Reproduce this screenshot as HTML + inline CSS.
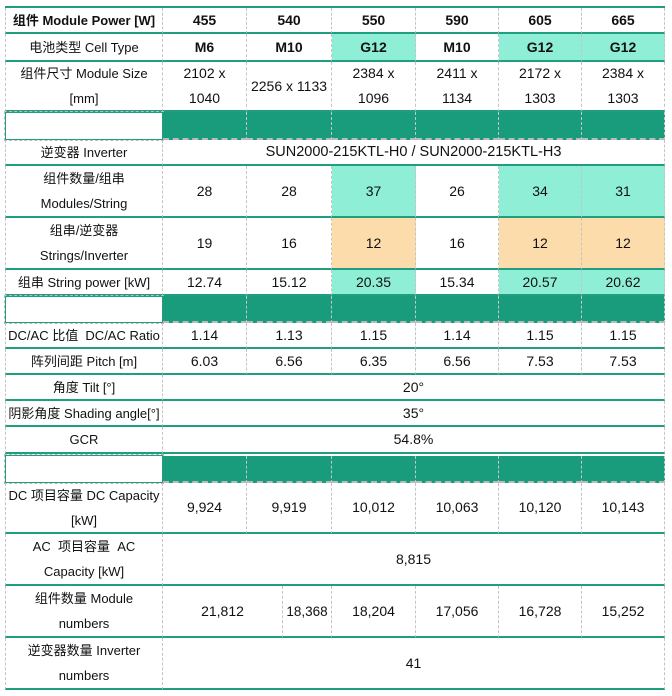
<!DOCTYPE html>
<html><head><meta charset="utf-8"><style>
body{margin:0;background:#fff;width:672px;height:696px;position:relative;overflow:hidden;font-family:"Liberation Sans","Noto Sans CJK SC",sans-serif;font-size:14px;color:#111}
.c{position:absolute;box-sizing:border-box;display:flex;align-items:center;justify-content:center;text-align:center;border-right:1px dashed #c4c4c4;border-bottom:2px solid #1f9e80;line-height:25px}
.f{border-left:1px dashed #c4c4c4;font-size:13px}
.b{font-weight:bold}
.t{background:#8eeed6}.p{background:#fcdcaa}.g{background:#189c7c;border-bottom:2px dashed #bbb}
.w{border:1px solid #1f9e80;outline:1px dashed #bbb}
</style></head><body>
<div style="position:absolute;left:5px;top:6px;width:660px;height:2px;background:#1f9e80"></div>
<div class="c f b" style="left:5px;top:8px;width:158px;height:26px">组件 Module Power [W]</div>
<div class="c b" style="left:163px;top:8px;width:84px;height:26px">455</div>
<div class="c b" style="left:247px;top:8px;width:85px;height:26px">540</div>
<div class="c b" style="left:332px;top:8px;width:84px;height:26px">550</div>
<div class="c b" style="left:416px;top:8px;width:83px;height:26px">590</div>
<div class="c b" style="left:499px;top:8px;width:83px;height:26px">605</div>
<div class="c b" style="left:582px;top:8px;width:83px;height:26px">665</div>
<div class="c f" style="left:5px;top:34px;width:158px;height:28px">电池类型 Cell Type</div>
<div class="c b" style="left:163px;top:34px;width:84px;height:28px">M6</div>
<div class="c b" style="left:247px;top:34px;width:85px;height:28px">M10</div>
<div class="c b t" style="left:332px;top:34px;width:84px;height:28px">G12</div>
<div class="c b" style="left:416px;top:34px;width:83px;height:28px">M10</div>
<div class="c b t" style="left:499px;top:34px;width:83px;height:28px">G12</div>
<div class="c b t" style="left:582px;top:34px;width:83px;height:28px">G12</div>
<div class="c f" style="left:5px;top:62px;width:158px;height:50px">组件尺寸 Module Size<br>[mm]</div>
<div class="c" style="left:163px;top:62px;width:84px;height:50px">2102 x<br>1040</div>
<div class="c" style="left:247px;top:62px;width:85px;height:50px">2256 x 1133</div>
<div class="c" style="left:332px;top:62px;width:84px;height:50px">2384 x<br>1096</div>
<div class="c" style="left:416px;top:62px;width:83px;height:50px">2411 x<br>1134</div>
<div class="c" style="left:499px;top:62px;width:83px;height:50px">2172 x<br>1303</div>
<div class="c" style="left:582px;top:62px;width:83px;height:50px">2384 x<br>1303</div>
<div class="c w" style="left:5px;top:112px;width:158px;height:28px"></div>
<div class="c g" style="left:163px;top:112px;width:84px;height:28px"></div>
<div class="c g" style="left:247px;top:112px;width:85px;height:28px"></div>
<div class="c g" style="left:332px;top:112px;width:84px;height:28px"></div>
<div class="c g" style="left:416px;top:112px;width:83px;height:28px"></div>
<div class="c g" style="left:499px;top:112px;width:83px;height:28px"></div>
<div class="c g" style="left:582px;top:112px;width:83px;height:28px"></div>
<div class="c f" style="left:5px;top:140px;width:158px;height:26px">逆变器 Inverter</div>
<div class="c" style="left:163px;top:140px;width:502px;height:26px;font-size:14.5px">SUN2000-215KTL-H0 / SUN2000-215KTL-H3</div>
<div class="c f" style="left:5px;top:166px;width:158px;height:52px">组件数量/组串<br>Modules/String</div>
<div class="c" style="left:163px;top:166px;width:84px;height:52px">28</div>
<div class="c" style="left:247px;top:166px;width:85px;height:52px">28</div>
<div class="c t" style="left:332px;top:166px;width:84px;height:52px">37</div>
<div class="c" style="left:416px;top:166px;width:83px;height:52px">26</div>
<div class="c t" style="left:499px;top:166px;width:83px;height:52px">34</div>
<div class="c t" style="left:582px;top:166px;width:83px;height:52px">31</div>
<div class="c f" style="left:5px;top:218px;width:158px;height:52px">组串/逆变器<br>Strings/Inverter</div>
<div class="c" style="left:163px;top:218px;width:84px;height:52px">19</div>
<div class="c" style="left:247px;top:218px;width:85px;height:52px">16</div>
<div class="c p" style="left:332px;top:218px;width:84px;height:52px">12</div>
<div class="c" style="left:416px;top:218px;width:83px;height:52px">16</div>
<div class="c p" style="left:499px;top:218px;width:83px;height:52px">12</div>
<div class="c p" style="left:582px;top:218px;width:83px;height:52px">12</div>
<div class="c f" style="left:5px;top:270px;width:158px;height:26px">组串 String power [kW]</div>
<div class="c" style="left:163px;top:270px;width:84px;height:26px">12.74</div>
<div class="c" style="left:247px;top:270px;width:85px;height:26px">15.12</div>
<div class="c t" style="left:332px;top:270px;width:84px;height:26px">20.35</div>
<div class="c" style="left:416px;top:270px;width:83px;height:26px">15.34</div>
<div class="c t" style="left:499px;top:270px;width:83px;height:26px">20.57</div>
<div class="c t" style="left:582px;top:270px;width:83px;height:26px">20.62</div>
<div class="c w" style="left:5px;top:296px;width:158px;height:27px"></div>
<div class="c g" style="left:163px;top:296px;width:84px;height:27px"></div>
<div class="c g" style="left:247px;top:296px;width:85px;height:27px"></div>
<div class="c g" style="left:332px;top:296px;width:84px;height:27px"></div>
<div class="c g" style="left:416px;top:296px;width:83px;height:27px"></div>
<div class="c g" style="left:499px;top:296px;width:83px;height:27px"></div>
<div class="c g" style="left:582px;top:296px;width:83px;height:27px"></div>
<div class="c f" style="left:5px;top:323px;width:158px;height:26px">DC/AC 比值&nbsp; DC/AC Ratio</div>
<div class="c" style="left:163px;top:323px;width:84px;height:26px">1.14</div>
<div class="c" style="left:247px;top:323px;width:85px;height:26px">1.13</div>
<div class="c" style="left:332px;top:323px;width:84px;height:26px">1.15</div>
<div class="c" style="left:416px;top:323px;width:83px;height:26px">1.14</div>
<div class="c" style="left:499px;top:323px;width:83px;height:26px">1.15</div>
<div class="c" style="left:582px;top:323px;width:83px;height:26px">1.15</div>
<div class="c f" style="left:5px;top:349px;width:158px;height:26px">阵列间距 Pitch [m]</div>
<div class="c" style="left:163px;top:349px;width:84px;height:26px">6.03</div>
<div class="c" style="left:247px;top:349px;width:85px;height:26px">6.56</div>
<div class="c" style="left:332px;top:349px;width:84px;height:26px">6.35</div>
<div class="c" style="left:416px;top:349px;width:83px;height:26px">6.56</div>
<div class="c" style="left:499px;top:349px;width:83px;height:26px">7.53</div>
<div class="c" style="left:582px;top:349px;width:83px;height:26px">7.53</div>
<div class="c f" style="left:5px;top:375px;width:158px;height:26px">角度 Tilt [°]</div>
<div class="c" style="left:163px;top:375px;width:502px;height:26px">20°</div>
<div class="c f" style="left:5px;top:401px;width:158px;height:26px">阴影角度 Shading angle[°]</div>
<div class="c" style="left:163px;top:401px;width:502px;height:26px">35°</div>
<div class="c f" style="left:5px;top:427px;width:158px;height:27px">GCR</div>
<div class="c" style="left:163px;top:427px;width:502px;height:27px">54.8%</div>
<div class="c w" style="left:5px;top:455px;width:158px;height:28px"></div>
<div class="c g" style="left:163px;top:456px;width:84px;height:27px"></div>
<div class="c g" style="left:247px;top:456px;width:85px;height:27px"></div>
<div class="c g" style="left:332px;top:456px;width:84px;height:27px"></div>
<div class="c g" style="left:416px;top:456px;width:83px;height:27px"></div>
<div class="c g" style="left:499px;top:456px;width:83px;height:27px"></div>
<div class="c g" style="left:582px;top:456px;width:83px;height:27px"></div>
<div class="c f" style="left:5px;top:483px;width:158px;height:51px">DC 项目容量 DC Capacity<br>[kW]</div>
<div class="c" style="left:163px;top:483px;width:84px;height:51px">9,924</div>
<div class="c" style="left:247px;top:483px;width:85px;height:51px">9,919</div>
<div class="c" style="left:332px;top:483px;width:84px;height:51px">10,012</div>
<div class="c" style="left:416px;top:483px;width:83px;height:51px">10,063</div>
<div class="c" style="left:499px;top:483px;width:83px;height:51px">10,120</div>
<div class="c" style="left:582px;top:483px;width:83px;height:51px">10,143</div>
<div class="c f" style="left:5px;top:534px;width:158px;height:52px">AC&nbsp; 项目容量&nbsp; AC<br>Capacity [kW]</div>
<div class="c" style="left:163px;top:534px;width:502px;height:52px">8,815</div>
<div class="c f" style="left:5px;top:586px;width:158px;height:52px">组件数量 Module<br>numbers</div>
<div class="c" style="left:163px;top:586px;width:120px;height:52px">21,812</div>
<div class="c" style="left:283px;top:586px;width:49px;height:52px;font-size:13.5px">18,368</div>
<div class="c" style="left:332px;top:586px;width:84px;height:52px">18,204</div>
<div class="c" style="left:416px;top:586px;width:83px;height:52px">17,056</div>
<div class="c" style="left:499px;top:586px;width:83px;height:52px">16,728</div>
<div class="c" style="left:582px;top:586px;width:83px;height:52px">15,252</div>
<div class="c f" style="left:5px;top:638px;width:158px;height:52px">逆变器数量 Inverter<br>numbers</div>
<div class="c" style="left:163px;top:638px;width:502px;height:52px">41</div>
</body></html>
